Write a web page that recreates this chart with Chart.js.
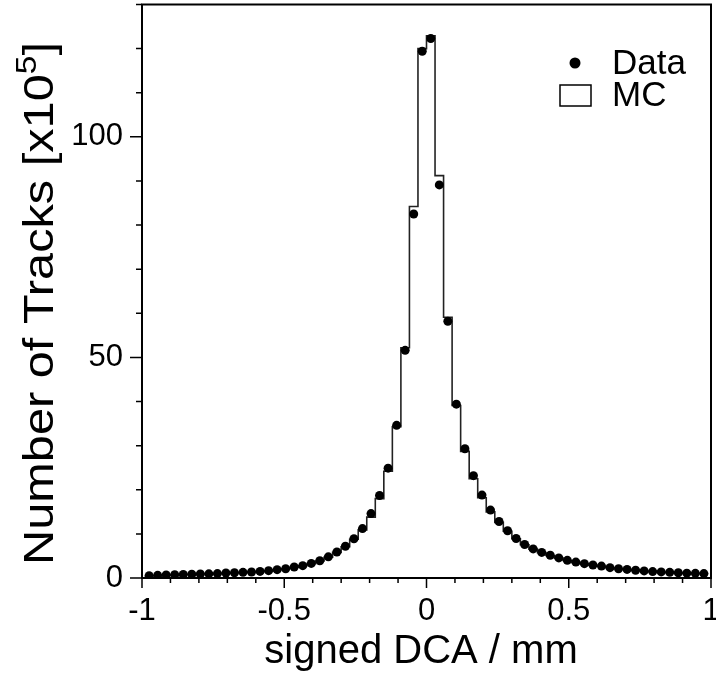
<!DOCTYPE html>
<html>
<head>
<meta charset="utf-8">
<script src="https://cdn.jsdelivr.net/npm/chart.js@4/dist/chart.umd.min.js"></script>
<style>
  html, body { margin: 0; padding: 0; background: #fff; }
  #wrap { width: 716px; height: 674px; position: relative; }
</style>
</head>
<body>
<div id="wrap"><canvas id="dcaChart"></canvas></div>
<script>
const FONT = "'Liberation Sans', Arial, Helvetica, sans-serif";

// histogram binning (66 bins of 0.03 from -0.99 to 0.99)
const binStart = -0.99;
const binWidth = 0.03;

// Data points, tracks per bin in units of 1e5
const dataCounts = [
    0.52, 0.60, 0.68, 0.75, 0.80, 0.85, 0.90, 0.95, 1.00, 1.13, 1.20,
    1.28, 1.36, 1.50, 1.66, 1.89, 2.10, 2.50, 2.80, 3.30, 3.90, 4.80,
    5.90, 7.20, 8.90, 11.2, 14.6, 18.7, 24.9, 34.6, 51.6, 82.5, 119.4,
    122.3, 89.1, 58.2, 39.4, 29.3, 23.2, 18.8, 15.4, 12.8, 10.7, 8.95,
    7.60, 6.60, 5.80, 5.15, 4.55, 4.00, 3.60, 3.25, 2.95, 2.70, 2.35,
    2.10, 1.95, 1.75, 1.60, 1.45, 1.38, 1.28, 1.20, 1.10, 1.05, 1.00
];

// MC histogram, same bins
const mcCounts = [
    0.50, 0.58, 0.66, 0.73, 0.79, 0.84, 0.89, 0.94, 1.00, 1.10, 1.18,
    1.26, 1.35, 1.48, 1.64, 1.86, 2.08, 2.45, 2.78, 3.25, 3.85, 4.70,
    5.80, 7.10, 8.80, 10.9, 13.8, 18.0, 24.2, 34.3, 52.2, 84.2, 120.0,
    122.9, 91.2, 59.1, 39.1, 28.7, 22.5, 18.2, 15.0, 12.6, 10.6, 8.90,
    7.55, 6.55, 5.75, 5.10, 4.50, 3.95, 3.55, 3.20, 2.90, 2.65, 2.32,
    2.08, 1.92, 1.73, 1.58, 1.44, 1.36, 1.26, 1.18, 1.09, 1.04, 0.98
];

const xMajorTicks = [-1, -0.5, 0, 0.5, 1];
const yMajorTicks = [0, 50, 100];

const dataPoints = dataCounts.map((v, i) => ({ x: binStart + (i + 0.5) * binWidth, y: v }));
// step line through bin edges, last edge repeats the last bin value
const mcPoints = mcCounts.map((v, i) => ({ x: binStart + i * binWidth, y: v }));
mcPoints.push({ x: binStart + mcCounts.length * binWidth, y: mcCounts[mcCounts.length - 1] });

const isMajor = (list, v) => list.some(m => Math.abs(m - v) < 1e-6);

// kill the automatic label overhang padding so the frame sits where it should
function noOverhang(scale) {
    scale.paddingTop = 0;
    scale.paddingBottom = 0;
    scale.paddingLeft = 0;
    scale.paddingRight = 0;
}

// frame, tick marks, axis titles and the legend
const decorations = {
    id: "decorations",
    afterDraw(chart) {
        const ctx = chart.ctx;
        const area = chart.chartArea;
        const xs = chart.scales.x;
        const ys = chart.scales.y;
        ctx.save();
        ctx.strokeStyle = "#000";
        ctx.lineWidth = 2;
        ctx.strokeRect(area.left, area.top, area.right - area.left, area.bottom - area.top);

        ctx.lineWidth = 1.5;
        ctx.beginPath();
        ys.ticks.forEach(t => {
            const py = ys.getPixelForValue(t.value);
            const len = isMajor(yMajorTicks, t.value) ? 12 : 6;
            ctx.moveTo(area.left - len, py);
            ctx.lineTo(area.left, py);
        });
        xs.ticks.forEach(t => {
            const px = xs.getPixelForValue(t.value);
            const len = isMajor(xMajorTicks, t.value) ? 10 : 5;
            ctx.moveTo(px, area.bottom);
            ctx.lineTo(px, area.bottom + len);
        });
        ctx.stroke();

        // x axis title
        ctx.fillStyle = "#000";
        ctx.font = "40px " + FONT;
        ctx.textAlign = "center";
        ctx.textBaseline = "alphabetic";
        ctx.fillText("signed DCA / mm", 421, 663);

        // y axis title, stretched along its length like the original
        ctx.translate(53, 42);
        ctx.rotate(-Math.PI / 2);
        ctx.textAlign = "left";
        const mainTxt = "Number of Tracks [x10";
        ctx.font = "42px " + FONT;
        const wMain = ctx.measureText(mainTxt).width;
        const wEnd = ctx.measureText("]").width;
        ctx.font = "29px " + FONT;
        const wSup = ctx.measureText("5").width;
        const total = wMain + wSup + wEnd;
        const k = 523 / total;
        ctx.scale(k, 1);
        const x0 = -total;
        ctx.font = "42px " + FONT;
        ctx.fillText(mainTxt, x0, 0);
        ctx.fillText("]", x0 + wMain + wSup, 0);
        ctx.font = "29px " + FONT;
        ctx.fillText("5", x0 + wMain, -17);
        ctx.restore();

        // legend
        ctx.save();
        ctx.fillStyle = "#000";
        ctx.strokeStyle = "#000";
        ctx.beginPath();
        ctx.arc(575, 63, 5.5, 0, Math.PI * 2);
        ctx.fill();
        ctx.lineWidth = 1.5;
        ctx.strokeRect(560, 85, 31, 21);
        ctx.font = "35px " + FONT;
        ctx.textBaseline = "alphabetic";
        ctx.fillText("Data", 612, 74);
        ctx.fillText("MC", 612, 106);
        ctx.restore();
    }
};

const ctx = document.getElementById("dcaChart").getContext("2d");

const chart = new Chart(ctx, {
    type: "scatter",
    data: {
        datasets: [
            {
                label: "Data",
                data: dataPoints,
                backgroundColor: "#000",
                borderColor: "#000",
                pointRadius: 4.5,
                pointBorderWidth: 0,
                showLine: false,
            },
            {
                label: "MC",
                type: "line",
                data: mcPoints,
                borderColor: "#222",
                borderWidth: 1.6,
                pointRadius: 0,
                stepped: "before",
                fill: false,
            },
        ],
    },
    plugins: [decorations],
    options: {
        responsive: true,
        maintainAspectRatio: false,
        animation: false,
        layout: { padding: { top: 4, right: 5, left: 0, bottom: 0 } },
        plugins: {
            legend: { display: false },
            tooltip: { enabled: false },
        },
        scales: {
            x: {
                type: "linear",
                min: -1,
                max: 1,
                grid: { display: false },
                border: { display: false },
                ticks: {
                    stepSize: 0.1,
                    autoSkip: false,
                    maxRotation: 0,
                    padding: 7,
                    color: "#000",
                    font: { family: FONT, size: 31 },
                    callback: function (value) {
                        if (!isMajor(xMajorTicks, value)) return "";
                        return String(Math.round(value * 10) / 10);
                    },
                },
                afterFit: function (scale) { scale.height = 96; noOverhang(scale); },
            },
            y: {
                min: 0,
                max: 130,
                grid: { display: false },
                border: { display: false },
                ticks: {
                    stepSize: 10,
                    autoSkip: false,
                    padding: 11,
                    color: "#000",
                    font: { family: FONT, size: 31 },
                    callback: function (value) {
                        return isMajor(yMajorTicks, value) ? String(value) : "";
                    },
                },
                afterFit: function (scale) { scale.width = 142; noOverhang(scale); },
            },
        },
    },
});
</script>
</body>
</html>
